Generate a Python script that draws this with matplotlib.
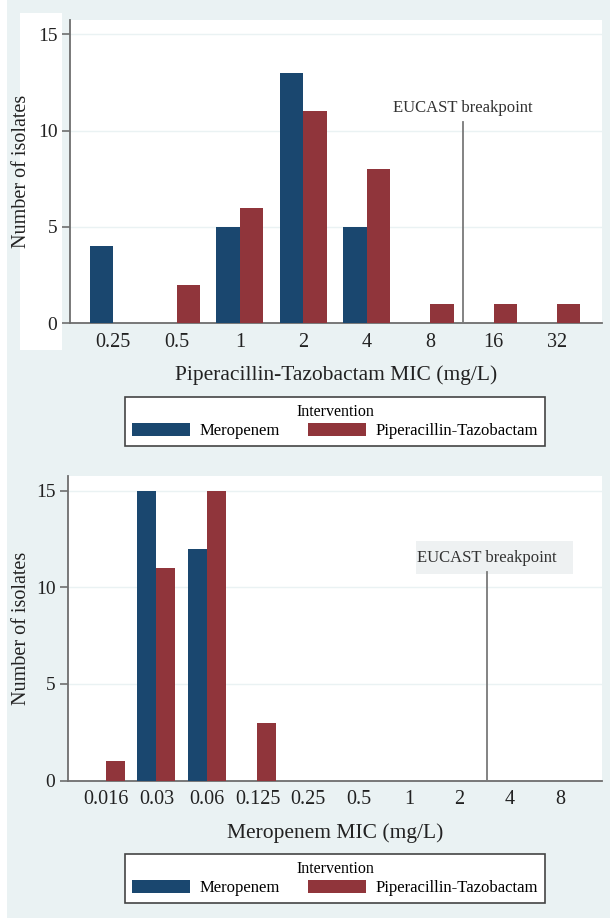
import matplotlib
matplotlib.use('Agg')
import matplotlib.pyplot as plt
from matplotlib.patches import Rectangle, Patch

plt.rcParams['font.family'] = ['Liberation Serif', 'DejaVu Serif']

# ── data ──
pip_mic = ['0.25', '0.5', '1', '2', '4', '8', '16', '32']
pip_mero = [4, 0, 5, 13, 5, 0, 0, 0]
pip_pt = [0, 2, 6, 11, 8, 1, 1, 1]
pip_breakpoint = 5.52          # position between the "8" and "16" groups

mero_mic = ['0.016', '0.03', '0.06', '0.125', '0.25', '0.5', '1', '2', '4', '8']
mero_mero = [0, 15, 12, 0, 0, 0, 0, 0, 0, 0]
mero_pt = [1, 11, 15, 3, 0, 0, 0, 0, 0, 0]
mero_breakpoint = 7.54         # between the "2" and "4" groups

series_names = ['Meropenem', 'Piperacillin-Tazobactam']

NAVY = '#1a476f'
MAROON = '#90353b'
BG = '#eaf2f3'
AXIS = '#6e6e6e'

W, H = 610, 918
fig = plt.figure(figsize=(W / 100, H / 100), dpi=100, facecolor=BG)

# white margins/patches seen in the scanned figure
fig.patches.append(Rectangle((0, 0), 7 / W, 1, transform=fig.transFigure,
                             facecolor='white', edgecolor='none', zorder=-5))
fig.patches.append(Rectangle((20 / W, 1 - 350 / H), 42 / W, 337 / H,
                             transform=fig.transFigure, facecolor='white',
                             edgecolor='none', zorder=-5))


def px_axes(left, top, right, bottom):
    return fig.add_axes([left / W, 1 - bottom / H, (right - left) / W, (bottom - top) / H])


def draw_panel(ax, cats, mero, pt, bp, bw, xlim, ylim, xlabel, ylab_x, bp_top, txt_y, boxed):
    x = list(range(len(cats)))
    ax.set_facecolor('white')
    ax.bar([i - bw / 2 for i in x], mero, width=bw, color=NAVY, zorder=3)
    ax.bar([i + bw / 2 for i in x], pt, width=bw, color=MAROON, zorder=3)
    ax.set_xlim(*xlim)
    ax.set_ylim(*ylim)
    ax.set_yticks([0, 5, 10, 15])
    ax.set_xticks(x)
    ax.set_xticklabels(cats)
    ax.tick_params(axis='x', length=0, pad=7, labelsize=14.5, colors='#222222')
    ax.tick_params(axis='y', length=6, width=1.2, color=AXIS, pad=3,
                   labelsize=14, labelcolor='#222222')
    for s in ['top', 'right']:
        ax.spines[s].set_visible(False)
    for s in ['left', 'bottom']:
        ax.spines[s].set_color(AXIS)
        ax.spines[s].set_linewidth(1.3)
    ax.grid(axis='y', color=BG, linewidth=1.0, zorder=0)
    ax.set_axisbelow(True)
    ax.set_xlabel(xlabel, fontsize=15.5, labelpad=10, color='#222222')
    ax.set_ylabel('Number of isolates', fontsize=14.5, color='#222222')
    ax.yaxis.set_label_coords(ylab_x, 0.5)

    ax.plot([bp, bp], [0, bp_top], color='#7a7a7a', linewidth=1.3, zorder=4)
    if boxed:
        ax.add_patch(Rectangle((bp - 1.40, txt_y - 0.85), 3.1, 1.7,
                               facecolor='#eef1f2', edgecolor='none', zorder=2))
    ax.text(bp, txt_y, 'EUCAST breakpoint', ha='center', va='center',
            fontsize=12, color='#333333', zorder=5)


ax1 = px_axes(70, 20, 602, 323)
draw_panel(ax1, pip_mic, pip_mero, pip_pt, pip_breakpoint, 0.37,
           (-0.68, 7.71), (0, 15.75), 'Piperacillin-Tazobactam MIC (mg/L)',
           -0.074, 10.44, 11.17, False)

ax2 = px_axes(68, 476, 602, 780.5)
draw_panel(ax2, mero_mic, mero_mero, mero_pt, mero_breakpoint, 0.375,
           (-0.75, 9.82), (0, 15.76), 'Meropenem MIC (mg/L)',
           -0.069, 10.79, 11.52, True)

handles = [Patch(facecolor=NAVY, edgecolor='none'),
           Patch(facecolor=MAROON, edgecolor='none')]


def add_legend(cy):
    leg = fig.legend(handles, series_names, loc='center',
                     bbox_to_anchor=(335 / W, 1 - cy / H), ncol=2,
                     title='Intervention', title_fontsize=11.5, fontsize=12,
                     frameon=True, fancybox=False, edgecolor='#444444',
                     facecolor='white', framealpha=1, handlelength=3.5,
                     handleheight=0.8, handletextpad=0.55, columnspacing=1.7,
                     borderpad=0.4, labelspacing=0.2)
    leg.get_frame().set_linewidth(1.2)
    leg._legend_box.sep = 2
    return leg


add_legend(421.5)
add_legend(878.5)

plt.savefig('out.png', dpi=100, facecolor=BG)
